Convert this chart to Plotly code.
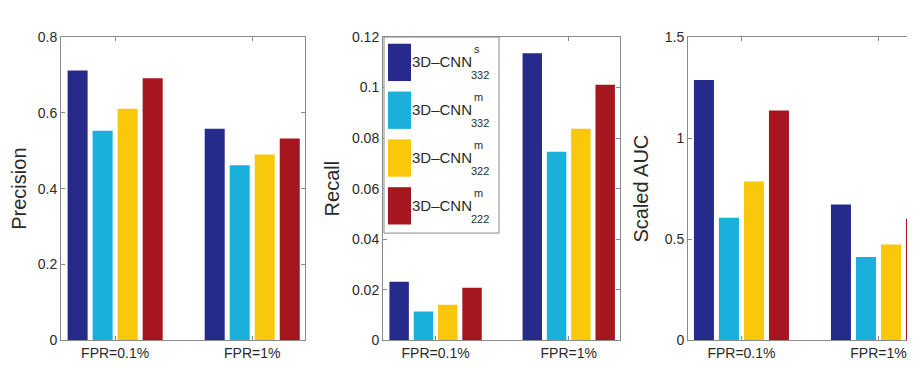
import plotly.graph_objects as go

W, H = 915, 367

categories = ["FPR=0.1%", "FPR=1%"]
series_base = "3D–CNN"
series_sup = ["s", "m", "m", "m"]
series_sub = ["332", "332", "322", "222"]
colors = ["#262a8a", "#19b0dc", "#fac80a", "#a6161e"]

# Precision panel
precision_s332 = [0.712, 0.558]
precision_m332 = [0.553, 0.462]
precision_m322 = [0.611, 0.490]
precision_m222 = [0.691, 0.532]

# Recall panel
recall_s332 = [0.0231, 0.1136]
recall_m332 = [0.0114, 0.0746]
recall_m322 = [0.0140, 0.0837]
recall_m222 = [0.0208, 0.1011]

# Scaled AUC panel
auc_s332 = [1.287, 0.672]
auc_m332 = [0.606, 0.412]
auc_m322 = [0.785, 0.473]
auc_m222 = [1.136, 0.601]

precision_ticks = [0, 0.2, 0.4, 0.6, 0.8]
precision_ticktext = ["0", "0.2", "0.4", "0.6", "0.8"]
recall_ticks = [0, 0.02, 0.04, 0.06, 0.08, 0.1, 0.12]
recall_ticktext = ["0", "0.02", "0.04", "0.06", "0.08", "0.1", "0.12"]
auc_ticks = [0, 0.5, 1, 1.5]
auc_ticktext = ["0", "0.5", "1", "1.5"]

panels = [
    ("Precision", [precision_s332, precision_m332, precision_m322, precision_m222],
     precision_ticks, precision_ticktext, [0, 0.8], 10),
    ("Recall", [recall_s332, recall_m332, recall_m322, recall_m222],
     recall_ticks, recall_ticktext, [0, 0.12], 6),
    ("Scaled AUC", [auc_s332, auc_m332, auc_m322, auc_m222],
     auc_ticks, auc_ticktext, [0, 1.5], 10),
]


def px(x):
    return x / W


def py(y):
    return 1 - y / H


x_domains = [[px(53), px(297)], [px(375), px(612)], [px(680), 1.0]]
x_ranges = [[-0.395, 1.385], [-0.395, 1.385], [-0.39, 1.325]]
y_domain = [py(339), py(22)]

FONT = "Liberation Sans, Arial, Helvetica, sans-serif"
AX = "#8a8a8a"
TXT = "#2a2a2a"

fig = go.Figure()
layout = dict(
    width=W, height=H,
    margin=dict(l=0, r=0, t=0, b=0),
    paper_bgcolor="white", plot_bgcolor="white",
    barmode="group", bargap=0.27, bargroupgap=0.2,
    showlegend=False,
    font=dict(family=FONT, size=14, color=TXT),
)

for p, (title, series, tv, tt, yr, stand) in enumerate(panels):
    k = "" if p == 0 else str(p + 1)
    for i, vals in enumerate(series):
        fig.add_trace(go.Bar(
            x=categories, y=vals,
            name=f"{series_base}<sup>{series_sup[i]}</sup><sub>{series_sub[i]}</sub>",
            marker=dict(color=colors[i], line=dict(width=0)),
            xaxis="x" + k, yaxis="y" + k,
        ))
    layout["xaxis" + k] = dict(
        domain=x_domains[p], anchor="y" + k, type="category",
        range=x_ranges[p], showline=True, linecolor=AX, linewidth=1,
        mirror="ticks", ticks="inside", ticklen=4, tickcolor=AX,
        showgrid=False, zeroline=False,
        tickfont=dict(size=14, family=FONT, color=TXT),
    )
    layout["yaxis" + k] = dict(
        domain=y_domain, anchor="x" + k, range=yr,
        tickvals=tv, ticktext=tt,
        showline=True, linecolor=AX, linewidth=1,
        mirror=("ticks" if p < 2 else False),
        ticks="inside", ticklen=4, tickcolor=AX,
        showgrid=False, zeroline=False,
        tickfont=dict(size=14, family=FONT, color=TXT),
        title=dict(text=title, font=dict(size=20, family=FONT, color=TXT), standoff=stand),
    )

fig.update_layout(**layout)

# Legend drawn inside the Recall panel (MATLAB style)
shapes = [dict(type="rect", xref="paper", yref="paper",
               x0=px(376), x1=px(491), y0=py(227), y1=py(22),
               line=dict(color=AX, width=1), fillcolor="white", layer="above")]
annotations = []
for i in range(4):
    top = 29 + 50 * i
    shapes.append(dict(type="rect", xref="paper", yref="paper",
                       x0=px(380), x1=px(403), y0=py(top + 39), y1=py(top),
                       line=dict(width=0), fillcolor=colors[i], layer="above"))
    annotations.append(dict(xref="paper", yref="paper", x=px(402), y=py(top + 19),
                            text=series_base, showarrow=False, xanchor="left", yanchor="middle",
                            font=dict(size=15, family=FONT, color=TXT)))
    annotations.append(dict(xref="paper", yref="paper", x=px(464), y=py(top + 6),
                            text=series_sup[i], showarrow=False, xanchor="left", yanchor="middle",
                            font=dict(size=11, family=FONT, color=TXT)))
    annotations.append(dict(xref="paper", yref="paper", x=px(461), y=py(top + 33),
                            text=series_sub[i], showarrow=False, xanchor="left", yanchor="middle",
                            font=dict(size=11, family=FONT, color=TXT)))

fig.update_layout(shapes=shapes, annotations=annotations)
fig.write_html("out.html")
